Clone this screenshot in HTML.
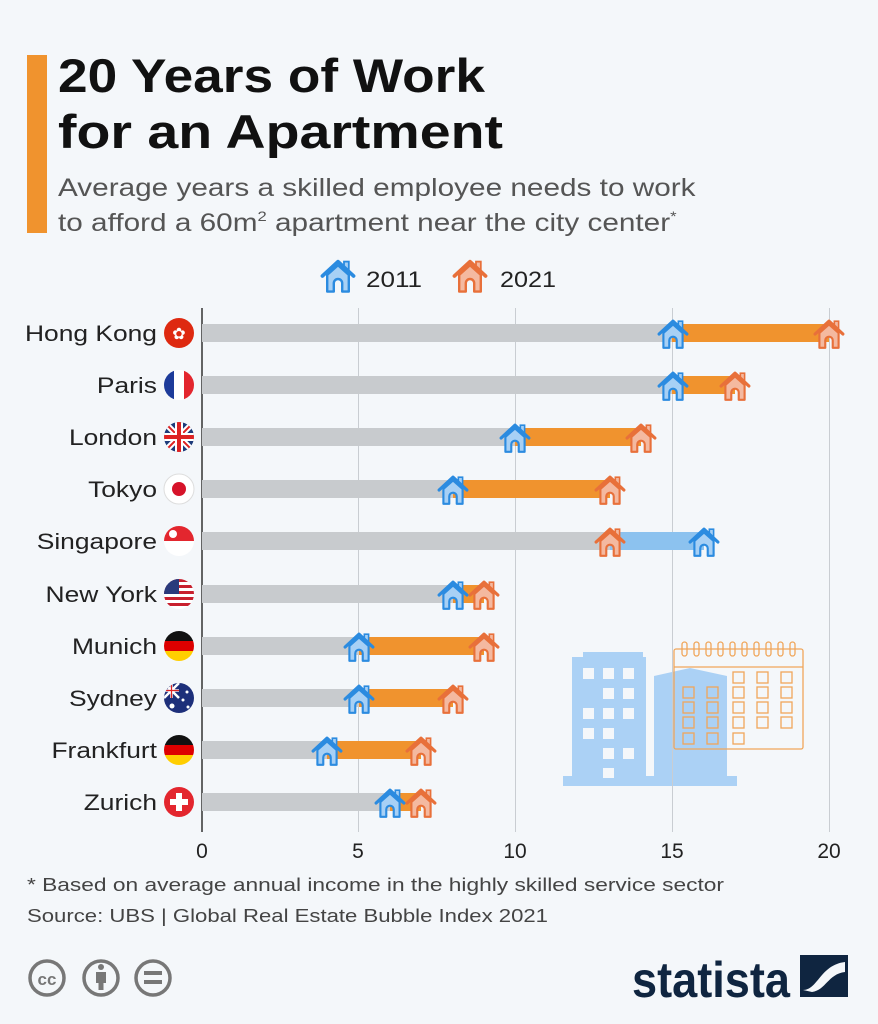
<!DOCTYPE html>
<html><head><meta charset="utf-8"><style>
body{margin:0;background:#f4f7fa}
svg{display:block}
text{font-family:"Liberation Sans","DejaVu Sans",sans-serif}
</style></head><body>
<svg width="878" height="1024" viewBox="0 0 878 1024" xmlns="http://www.w3.org/2000/svg">
<defs>
<symbol id="hb" viewBox="0 0 30 30">
<rect x="20" y="3" width="4" height="8" fill="#a7d0f5" stroke="#2b8be0" stroke-width="1.5"/>
<path d="M6 14 L15 6 L24 14 V28 H18.5 V21 a3.5 3.5 0 0 0 -7 0 V28 H6 Z" fill="#a7d0f5" stroke="#2b8be0" stroke-width="2" stroke-linejoin="round"/>
<path d="M2 15 L15 3 L28 15" fill="none" stroke="#2b8be0" stroke-width="3" stroke-linecap="round" stroke-linejoin="round"/>
</symbol>
<symbol id="ho" viewBox="0 0 30 30">
<rect x="20" y="3" width="4" height="8" fill="#f4b9a0" stroke="#e8703a" stroke-width="1.5"/>
<path d="M6 14 L15 6 L24 14 V28 H18.5 V21 a3.5 3.5 0 0 0 -7 0 V28 H6 Z" fill="#f4b9a0" stroke="#e8703a" stroke-width="2" stroke-linejoin="round"/>
<path d="M2 15 L15 3 L28 15" fill="none" stroke="#e8703a" stroke-width="3" stroke-linecap="round" stroke-linejoin="round"/>
</symbol>
</defs>
<rect width="878" height="1024" fill="#f4f7fa"/>
<rect x="27" y="55" width="20" height="178" fill="#f0932e"/>
<text x="58" y="92" font-size="47" font-weight="bold" fill="#111" textLength="427" lengthAdjust="spacingAndGlyphs">20 Years of Work</text>
<text x="58" y="148" font-size="47" font-weight="bold" fill="#111" textLength="445" lengthAdjust="spacingAndGlyphs">for an Apartment</text>
<g transform="translate(58,0) scale(1.19 1) translate(-58,0)">
<text x="58" y="196" font-size="25" fill="#555">Average years a skilled employee needs to work</text>
<text x="58" y="231" font-size="25" fill="#555">to afford a 60m<tspan font-size="14" dy="-10">2</tspan><tspan dy="10"> apartment near the city center</tspan><tspan font-size="14" dy="-10">*</tspan></text>
</g>
<use href="#hb" x="320" y="258" width="36" height="36"/>
<text x="366" y="287" font-size="22" fill="#222" textLength="56" lengthAdjust="spacingAndGlyphs">2011</text>
<use href="#ho" x="452" y="258" width="36" height="36"/>
<text x="500" y="287" font-size="22" fill="#222" textLength="56" lengthAdjust="spacingAndGlyphs">2021</text>
<!-- illustration -->
<g fill="#abd1f5">
<rect x="583" y="652" width="60" height="10"/><rect x="572" y="657" width="74" height="122"/>
<path d="M654 676 L690 668 L727 676 V779 H654 Z"/>
<rect x="563" y="776" width="174" height="10"/>
</g>
<g fill="#f4f7fa">
<rect x="583" y="668" width="11" height="11"/><rect x="603" y="668" width="11" height="11"/><rect x="623" y="668" width="11" height="11"/>
<rect x="603" y="688" width="11" height="11"/><rect x="623" y="688" width="11" height="11"/>
<rect x="583" y="708" width="11" height="11"/><rect x="603" y="708" width="11" height="11"/><rect x="623" y="708" width="11" height="11"/>
<rect x="583" y="728" width="11" height="11"/><rect x="603" y="728" width="11" height="11"/>
<rect x="603" y="748" width="11" height="11"/><rect x="623" y="748" width="11" height="11"/>
<rect x="603" y="768" width="11" height="10"/>
</g>
<g fill="none" stroke="#f0a65a" stroke-width="1.3">
<rect x="674" y="649" width="129" height="100" rx="2"/><line x1="674" y1="667" x2="803" y2="667"/>
<rect x="682" y="642" width="5" height="14" rx="2.5"/><rect x="694" y="642" width="5" height="14" rx="2.5"/><rect x="706" y="642" width="5" height="14" rx="2.5"/><rect x="718" y="642" width="5" height="14" rx="2.5"/><rect x="730" y="642" width="5" height="14" rx="2.5"/><rect x="742" y="642" width="5" height="14" rx="2.5"/><rect x="754" y="642" width="5" height="14" rx="2.5"/><rect x="766" y="642" width="5" height="14" rx="2.5"/><rect x="778" y="642" width="5" height="14" rx="2.5"/><rect x="790" y="642" width="5" height="14" rx="2.5"/>
<rect x="733" y="672" width="11" height="11"/><rect x="757" y="672" width="11" height="11"/><rect x="781" y="672" width="11" height="11"/>
<rect x="683" y="687" width="11" height="11"/><rect x="707" y="687" width="11" height="11"/><rect x="733" y="687" width="11" height="11"/><rect x="757" y="687" width="11" height="11"/><rect x="781" y="687" width="11" height="11"/>
<rect x="683" y="702" width="11" height="11"/><rect x="707" y="702" width="11" height="11"/><rect x="733" y="702" width="11" height="11"/><rect x="757" y="702" width="11" height="11"/><rect x="781" y="702" width="11" height="11"/>
<rect x="683" y="717" width="11" height="11"/><rect x="707" y="717" width="11" height="11"/><rect x="733" y="717" width="11" height="11"/><rect x="757" y="717" width="11" height="11"/><rect x="781" y="717" width="11" height="11"/>
<rect x="683" y="733" width="11" height="11"/><rect x="707" y="733" width="11" height="11"/><rect x="733" y="733" width="11" height="11"/>
</g>
<g stroke="#c9cdd2" stroke-width="1">
<line x1="358.5" y1="308" x2="358.5" y2="832"/><line x1="515.5" y1="308" x2="515.5" y2="832"/><line x1="672.5" y1="308" x2="672.5" y2="832"/><line x1="829.5" y1="308" x2="829.5" y2="832"/>
</g>
<line x1="202" y1="308" x2="202" y2="832" stroke="#333" stroke-width="1.5"/>
<g>
<rect x="202" y="324" width="470" height="18" fill="#c8cbce"/><rect x="672" y="324" width="157" height="18" fill="#f0932e"/>
<rect x="202" y="376" width="470" height="18" fill="#c8cbce"/><rect x="672" y="376" width="63" height="18" fill="#f0932e"/>
<rect x="202" y="428" width="313" height="18" fill="#c8cbce"/><rect x="515" y="428" width="126" height="18" fill="#f0932e"/>
<rect x="202" y="480" width="251" height="18" fill="#c8cbce"/><rect x="453" y="480" width="157" height="18" fill="#f0932e"/>
<rect x="202" y="532" width="408" height="18" fill="#c8cbce"/><rect x="610" y="532" width="94" height="18" fill="#8cc2ef"/>
<rect x="202" y="585" width="251" height="18" fill="#c8cbce"/><rect x="453" y="585" width="31" height="18" fill="#f0932e"/>
<rect x="202" y="637" width="157" height="18" fill="#c8cbce"/><rect x="359" y="637" width="125" height="18" fill="#f0932e"/>
<rect x="202" y="689" width="157" height="18" fill="#c8cbce"/><rect x="359" y="689" width="94" height="18" fill="#f0932e"/>
<rect x="202" y="741" width="125" height="18" fill="#c8cbce"/><rect x="327" y="741" width="94" height="18" fill="#f0932e"/>
<rect x="202" y="793" width="188" height="18" fill="#c8cbce"/><rect x="390" y="793" width="31" height="18" fill="#f0932e"/>
</g>
<g>
<use href="#hb" x="657" y="318" width="32" height="32"/><use href="#ho" x="813" y="318" width="32" height="32"/>
<use href="#hb" x="657" y="370" width="32" height="32"/><use href="#ho" x="719" y="370" width="32" height="32"/>
<use href="#hb" x="499" y="422" width="32" height="32"/><use href="#ho" x="625" y="422" width="32" height="32"/>
<use href="#hb" x="437" y="474" width="32" height="32"/><use href="#ho" x="594" y="474" width="32" height="32"/>
<use href="#ho" x="594" y="526" width="32" height="32"/><use href="#hb" x="688" y="526" width="32" height="32"/>
<use href="#hb" x="437" y="579" width="32" height="32"/><use href="#ho" x="468" y="579" width="32" height="32"/>
<use href="#hb" x="343" y="631" width="32" height="32"/><use href="#ho" x="468" y="631" width="32" height="32"/>
<use href="#hb" x="343" y="683" width="32" height="32"/><use href="#ho" x="437" y="683" width="32" height="32"/>
<use href="#hb" x="311" y="735" width="32" height="32"/><use href="#ho" x="405" y="735" width="32" height="32"/>
<use href="#hb" x="374" y="787" width="32" height="32"/><use href="#ho" x="405" y="787" width="32" height="32"/>
</g>
<g font-size="22" fill="#222" text-anchor="end" transform="translate(157,0) scale(1.2 1) translate(-157,0)">
<text x="157" y="341">Hong Kong</text><text x="157" y="393">Paris</text><text x="157" y="445">London</text><text x="157" y="497">Tokyo</text><text x="157" y="549">Singapore</text><text x="157" y="602">New York</text><text x="157" y="654">Munich</text><text x="157" y="706">Sydney</text><text x="157" y="758">Frankfurt</text><text x="157" y="810">Zurich</text>
</g>
<defs><clipPath id="c"><circle cx="0" cy="0" r="15"/></clipPath></defs>
<g transform="translate(179,333)"><circle r="15" fill="#de2910"/><text x="0" y="6" font-size="16" fill="#fff" text-anchor="middle">✿</text></g>
<g transform="translate(179,385)" clip-path="url(#c)"><rect x="-15" y="-15" width="10" height="30" fill="#1d3b9a"/><rect x="-5" y="-15" width="10" height="30" fill="#fff"/><rect x="5" y="-15" width="10" height="30" fill="#e3262e"/></g>
<g transform="translate(179,437)" clip-path="url(#c)"><rect x="-15" y="-15" width="30" height="30" fill="#1d3b7a"/><path d="M-15 -15 L15 15 M15 -15 L-15 15" stroke="#fff" stroke-width="6"/><path d="M-15 -15 L15 15 M15 -15 L-15 15" stroke="#d22" stroke-width="2"/><path d="M0 -15 V15 M-15 0 H15" stroke="#fff" stroke-width="8"/><path d="M0 -15 V15 M-15 0 H15" stroke="#d22" stroke-width="4"/></g>
<g transform="translate(179,489)"><circle r="15" fill="#fff" stroke="#ddd"/><circle r="7" fill="#d6132a"/></g>
<g transform="translate(179,541)" clip-path="url(#c)"><rect x="-15" y="-15" width="30" height="15" fill="#e3262e"/><rect x="-15" y="0" width="30" height="15" fill="#fff"/><circle cx="-6" cy="-7" r="4" fill="#fff"/></g>
<g transform="translate(179,594)" clip-path="url(#c)"><rect x="-15" y="-15" width="30" height="30" fill="#fff"/><g fill="#c8202e"><rect x="-15" y="-15" width="30" height="3"/><rect x="-15" y="-9" width="30" height="3"/><rect x="-15" y="-3" width="30" height="3"/><rect x="-15" y="3" width="30" height="3"/><rect x="-15" y="9" width="30" height="3"/></g><rect x="-15" y="-15" width="15" height="15" fill="#2a3a7c"/></g>
<g transform="translate(179,646)" clip-path="url(#c)"><rect x="-15" y="-15" width="30" height="10" fill="#111"/><rect x="-15" y="-5" width="30" height="10" fill="#dd0000"/><rect x="-15" y="5" width="30" height="10" fill="#ffce00"/></g>
<g transform="translate(179,698)" clip-path="url(#c)"><rect x="-15" y="-15" width="30" height="30" fill="#1d2f7a"/><path d="M-15 -15 L0 0 M0 -15 L-15 0 M-7.5 -15 V0 M-15 -7.5 H0" stroke="#fff" stroke-width="2.5"/><path d="M-7.5 -15 V0 M-15 -7.5 H0" stroke="#d22" stroke-width="1.2"/><circle cx="-7" cy="8" r="2.5" fill="#fff"/><circle cx="8" cy="-6" r="1.5" fill="#fff"/><circle cx="4" cy="2" r="1.5" fill="#fff"/><circle cx="9" cy="9" r="1.5" fill="#fff"/></g>
<g transform="translate(179,750)" clip-path="url(#c)"><rect x="-15" y="-15" width="30" height="10" fill="#111"/><rect x="-15" y="-5" width="30" height="10" fill="#dd0000"/><rect x="-15" y="5" width="30" height="10" fill="#ffce00"/></g>
<g transform="translate(179,802)"><circle r="15" fill="#e3262e"/><path d="M-3 -9 H3 V-3 H9 V3 H3 V9 H-3 V3 H-9 V-3 H-3 Z" fill="#fff"/></g>
<g font-size="21" fill="#222" text-anchor="middle">
<text x="202" y="858">0</text><text x="358" y="858">5</text><text x="515" y="858">10</text><text x="672" y="858">15</text><text x="829" y="858">20</text>
</g>
<text x="27" y="891" font-size="18.5" fill="#444" textLength="697" lengthAdjust="spacingAndGlyphs">* Based on average annual income in the highly skilled service sector</text>
<text x="27" y="922" font-size="18.5" fill="#444" textLength="521" lengthAdjust="spacingAndGlyphs">Source: UBS | Global Real Estate Bubble Index 2021</text>
<g fill="none" stroke="#777" stroke-width="3.5">
<circle cx="47" cy="978" r="17"/><circle cx="101" cy="978" r="17"/><circle cx="153" cy="978" r="17"/>
</g>
<text x="47" y="985" font-size="17" font-weight="bold" fill="#777" text-anchor="middle">cc</text>
<circle cx="101" cy="967" r="3" fill="#777"/><rect x="96" y="972" width="10" height="11" fill="#777"/><rect x="98.5" y="982" width="5" height="8" fill="#777"/>
<rect x="144" y="971" width="18" height="4" fill="#777"/><rect x="144" y="980" width="18" height="4" fill="#777"/>
<text x="632" y="997" font-size="50" font-weight="bold" fill="#0f2540" textLength="158" lengthAdjust="spacingAndGlyphs">statista</text>
<rect x="800" y="955" width="48" height="42" fill="#0f2540"/>
<path d="M803 990 C818 990 820 965 845 962 L845 972 C828 974 826 990 812 992 Z" fill="#f4f7fa"/>
</svg>
</body></html>
